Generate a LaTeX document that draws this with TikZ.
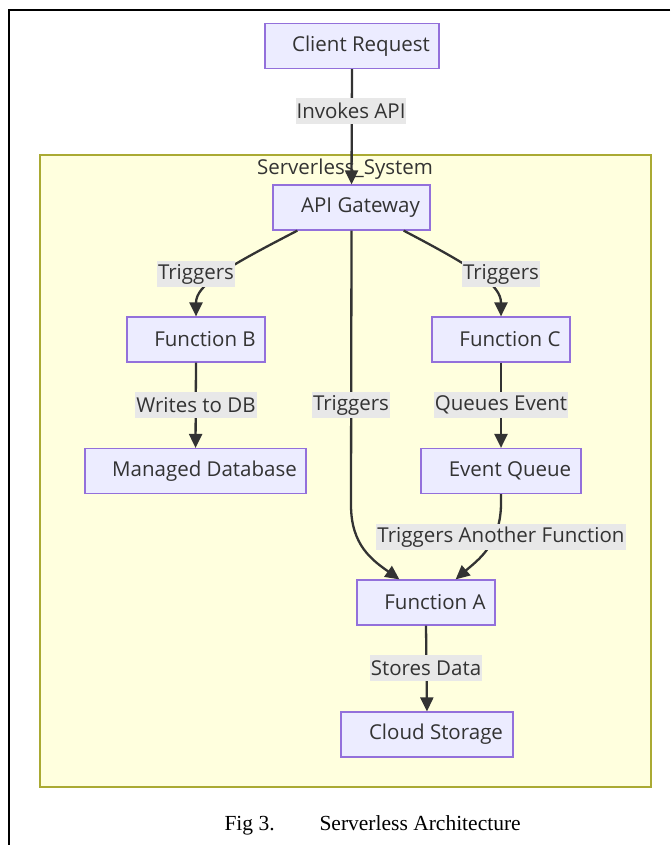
\documentclass[tikz,border=0pt]{standalone}
\usepackage{fontspec}
\setmainfont{Open Sans}
\newfontfamily\capfont{Liberation Serif}
\usetikzlibrary{arrows.meta}
\definecolor{nodefill}{HTML}{ECECFF}
\definecolor{nodedraw}{HTML}{9370DB}
\definecolor{clfill}{HTML}{FFFFDE}
\definecolor{cldraw}{HTML}{AAAA33}
\definecolor{lblfill}{HTML}{E8E8E8}
\definecolor{ink}{HTML}{333333}
\tikzset{
  box/.style={draw=nodedraw, fill=nodefill, line width=1.2pt, minimum height=45pt, inner sep=0pt, text=ink, font=\fontsize{20.5}{24}\selectfont},
  lbl/.style={fill=lblfill, inner xsep=1pt, inner ysep=0pt, minimum height=26pt, text=ink, font=\fontsize{20.5}{24}\selectfont},
  conn/.style={draw=ink, line width=2.3pt, -{Triangle[length=14pt,width=13pt]}},
}
\begin{document}
\begin{tikzpicture}[x=1pt,y=-1pt]
\useasboundingbox (0,0) rectangle (670,845);
% outer frame
\draw[line width=2pt] (670,10) -- (9,10) -- (9,845);
% cluster
\node[draw=cldraw, fill=clfill, line width=1.2pt, minimum width=611pt, minimum height=632pt, inner sep=0pt] (cl) at (345.5,471) {};
\node[text=ink, font=\fontsize{20.5}{24}\selectfont] (cltitle) at (345,169) {Serverless\_System};
% nodes
\node[box, minimum width=174pt] (client) at (352,46) {\hspace{18pt}Client Request};
\node[box, minimum width=157pt] (api) at (351.5,207.5) {\hspace{18pt}API Gateway};
\node[box, minimum width=138pt] (fb) at (196,339.5) {\hspace{18pt}Function B};
\node[box, minimum width=138pt] (fc) at (501,339.5) {\hspace{18pt}Function C};
\node[box, minimum width=221pt] (db) at (195.5,471) {\hspace{18pt}Managed Database};
\node[box, minimum width=160pt] (eq) at (501,471) {\hspace{18pt}Event Queue};
\node[box, minimum width=138pt] (fa) at (426,602.5) {\hspace{18pt}Function A};
\node[box, minimum width=172pt] (cs) at (427,734.5) {\hspace{18pt}Cloud Storage};
% connector anchors
\coordinate (apiL) at ([xshift=25pt]api.south west);
\coordinate (apiR) at ([xshift=-27pt]api.south east);
\coordinate (faL) at ([xshift=43pt]fa.north west);
\coordinate (faR) at ([xshift=-40pt]fa.north east);
% edges
\draw[conn] (client.south) -- (api.north);
\draw[conn] (apiL) .. controls (225,268) and (196,285) .. (fb.north);
\draw[conn] (apiR) .. controls (475,268) and (501,285) .. (fc.north);
\draw[conn] (fb.south) -- (db.north);
\draw[conn] (fc.south) -- (eq.north);
\draw[conn] (api.south) -- (351,505) .. controls (351,545) and (372,560) .. (faL);
\draw[conn] (eq.south) -- (501,505) .. controls (500,545) and (478,560) .. (faR);
\draw[conn] (fa.south) -- (cs.north);
% labels
\node[lbl] (l1) at (351,111) {Invokes API};
\node[lbl] (l2) at (196,274) {Triggers};
\node[lbl] (l3) at (501,274) {Triggers};
\node[lbl] (l4) at (196,405) {Writes to DB};
\node[lbl] (l5) at (351,405) {Triggers};
\node[lbl] (l6) at (501,405) {Queues Event};
\node[lbl] (l7) at (501,537) {Triggers Another Function};
\node[lbl] (l8) at (426,668) {Stores Data};
% caption
\node[font=\capfont\fontsize{21.5}{24}\selectfont, anchor=base west] (cap1) at (221,830) {Fig 3.};
\node[font=\capfont\fontsize{21.5}{24}\selectfont, anchor=base west] (cap2) at (316,830) {Serverless Architecture};
\end{tikzpicture}
\end{document}
